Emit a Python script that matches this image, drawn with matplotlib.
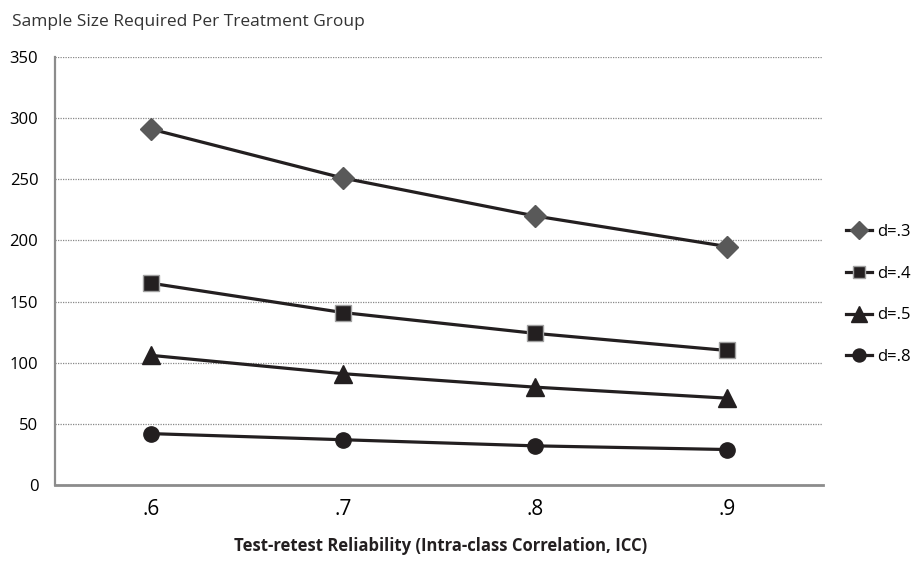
import matplotlib.pyplot as plt
import numpy as np

plt.rcParams['font.family'] = ['Open Sans', 'DejaVu Sans']

icc = ['.6', '.7', '.8', '.9']
d3 = [291, 251, 220, 195]
d4 = [165, 141, 124, 110]
d5 = [106, 91, 80, 71]
d8 = [42, 37, 32, 29]
labels = ['d=.3', 'd=.4', 'd=.5', 'd=.8']

fig = plt.figure(figsize=(9.24, 5.61), dpi=100)
ax = fig.add_axes([0.0595, 0.1355, 0.831, 0.763])

x = np.arange(len(icc))
line_col = '#231f20'
ax.plot(x, d3, color=line_col, lw=2.3, marker='D', ms=11, mfc='#595959', mec='#595959', label=labels[0])
ax.plot(x, d4, color=line_col, lw=2.3, marker='s', ms=11, mfc='#231f20', mec='#a0a0a0', label=labels[1])
ax.plot(x, d5, color=line_col, lw=2.3, marker='^', ms=13, mfc='#231f20', mec='#231f20', label=labels[2])
ax.plot(x, d8, color=line_col, lw=2.3, marker='o', ms=11, mfc='#231f20', mec='#231f20', label=labels[3])

ax.set_xlim(-0.5, 3.5)
ax.set_ylim(0, 350)
ax.set_xticks(x)
ax.set_xticklabels(icc, fontsize=15)
ax.set_yticks(np.arange(0, 351, 50))
ax.tick_params(axis='y', labelsize=12, length=0, pad=12)
ax.tick_params(axis='x', length=0, pad=10)
ax.yaxis.grid(True, linestyle=(0, (1, 1)), color='#888888', lw=0.9)
ax.set_axisbelow(True)
for s in ['top', 'right']:
    ax.spines[s].set_visible(False)
ax.spines['left'].set_color('#8c8c8c')
ax.spines['left'].set_linewidth(1.6)
ax.spines['bottom'].set_color('#8c8c8c')
ax.spines['bottom'].set_linewidth(2)

fig.text(0.477, 0.027, 'Test-retest Reliability (Intra-class Correlation, ICC)', fontsize=12,
         fontweight='bold', ha='center', va='center', color='#231f20')
fig.text(0.013, 0.961, 'Sample Size Required Per Treatment Group', fontsize=12.5, color='#333333',
         va='center')

leg = ax.legend(loc='center left', bbox_to_anchor=(1.01, 0.445), frameon=False, fontsize=12,
                handlelength=1.6, markerscale=0.85, labelspacing=1.55, handletextpad=0.3)

fig.savefig('out.png', dpi=100)
